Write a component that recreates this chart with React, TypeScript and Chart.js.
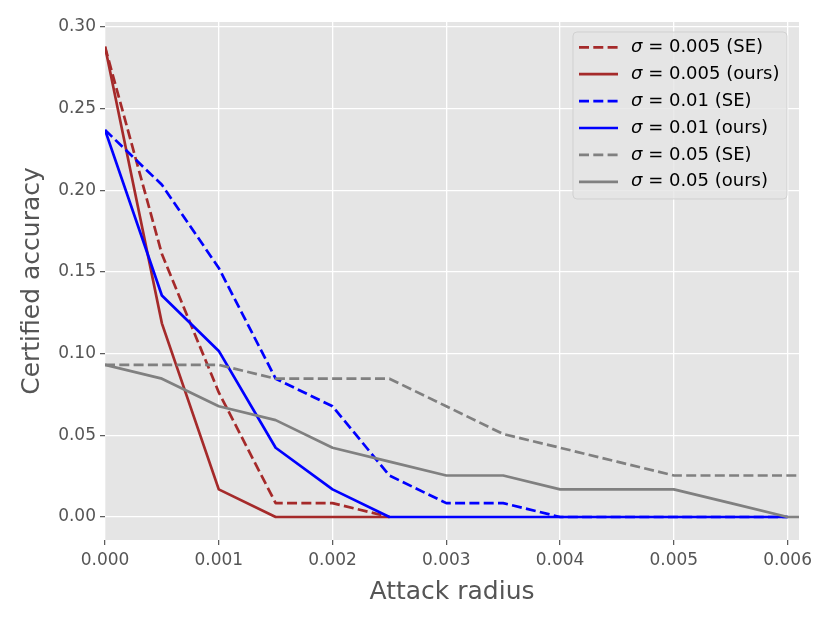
import React, { useEffect, useRef } from "react";
import { Chart, registerables } from "chart.js";

Chart.register(...registerables);

// ---- data ----
const radiiShort = [0, 0.0005, 0.001, 0.0015, 0.002, 0.0025];
const radiiMid = [0, 0.0005, 0.001, 0.0015, 0.002, 0.0025, 0.003, 0.0035, 0.004, 0.0045, 0.005, 0.0055, 0.006];
const radiiLong = [0, 0.0005, 0.001, 0.0015, 0.002, 0.0025, 0.003, 0.0035, 0.004, 0.0045, 0.005, 0.0055, 0.006, 0.0065];

const sigma005SE = [0.288, 0.161, 0.0763, 0.0085, 0.0085, 0];
const sigma005Ours = [0.288, 0.1186, 0.0169, 0, 0, 0];
const sigma001SE = [0.237, 0.2034, 0.1525, 0.0847, 0.0678, 0.0254, 0.0085, 0.0085, 0, 0, 0, 0, 0];
const sigma001Ours = [0.237, 0.1356, 0.1017, 0.0424, 0.0169, 0, 0, 0, 0, 0, 0, 0, 0];
const sigma05SE = [0.0932, 0.0932, 0.0932, 0.0847, 0.0847, 0.0847, 0.0678, 0.0508, 0.0424, 0.0339, 0.0254, 0.0254, 0.0254, 0.0254];
const sigma05Ours = [0.0932, 0.0847, 0.0678, 0.0593, 0.0424, 0.0339, 0.0254, 0.0254, 0.0169, 0.0169, 0.0169, 0.0085, 0, 0];

const seriesLabels = [
  "σ = 0.005 (SE)",
  "σ = 0.005 (ours)",
  "σ = 0.01 (SE)",
  "σ = 0.01 (ours)",
  "σ = 0.05 (SE)",
  "σ = 0.05 (ours)",
];
const xTickValues = [0, 0.001, 0.002, 0.003, 0.004, 0.005, 0.006];
const yTickValues = [0, 0.05, 0.1, 0.15, 0.2, 0.25, 0.3];

const FONT = "'DejaVu Sans', sans-serif";
const LW = 2.7;
const DASH = [10, 4.3];

export default function App() {
  const ref = useRef<HTMLCanvasElement | null>(null);

  useEffect(() => {
    if (!ref.current) return;
    const mk = (xs: number[], ys: number[]) => ys.map((y, i) => ({ x: xs[i], y }));
    const specs = [
      { data: mk(radiiShort, sigma005SE), color: "#A52A2A", dashed: true },
      { data: mk(radiiShort, sigma005Ours), color: "#A52A2A", dashed: false },
      { data: mk(radiiMid, sigma001SE), color: "#0000FF", dashed: true },
      { data: mk(radiiMid, sigma001Ours), color: "#0000FF", dashed: false },
      { data: mk(radiiLong, sigma05SE), color: "#808080", dashed: true },
      { data: mk(radiiLong, sigma05Ours), color: "#808080", dashed: false },
    ];
    const datasets = specs.map((s, i) => ({
      label: seriesLabels[i],
      data: s.data,
      borderColor: s.color,
      backgroundColor: s.color,
      borderWidth: LW,
      borderDash: s.dashed ? DASH : [],
      pointRadius: 0,
      fill: false,
      tension: 0,
      order: specs.length - i,
      borderCapStyle: "butt" as const,
      borderJoinStyle: "round" as const,
    }));

    const bgPlugin = {
      id: "bgPlugin",
      beforeDraw(chart: any) {
        const { ctx, chartArea: a, width, height } = chart;
        ctx.save();
        ctx.fillStyle = "#ffffff";
        ctx.fillRect(0, 0, width, height);
        ctx.fillStyle = "#E5E5E5";
        ctx.fillRect(a.left, a.top, a.right - a.left, a.bottom - a.top);
        ctx.restore();
      },
    };

    const legendPlugin = {
      id: "legendPlugin",
      afterDraw(chart: any) {
        const { ctx, chartArea: a } = chart;
        const w = 214;
        const h = 167;
        const x0 = a.right - 12 - w;
        const y0 = a.top + 10;
        ctx.save();
        const r = 4;
        ctx.beginPath();
        ctx.moveTo(x0 + r, y0);
        ctx.lineTo(x0 + w - r, y0);
        ctx.quadraticCurveTo(x0 + w, y0, x0 + w, y0 + r);
        ctx.lineTo(x0 + w, y0 + h - r);
        ctx.quadraticCurveTo(x0 + w, y0 + h, x0 + w - r, y0 + h);
        ctx.lineTo(x0 + r, y0 + h);
        ctx.quadraticCurveTo(x0, y0 + h, x0, y0 + h - r);
        ctx.lineTo(x0, y0 + r);
        ctx.quadraticCurveTo(x0, y0, x0 + r, y0);
        ctx.closePath();
        ctx.fillStyle = "rgba(229,229,229,0.8)";
        ctx.fill();
        ctx.lineWidth = 1;
        ctx.strokeStyle = "rgba(204,204,204,0.8)";
        ctx.stroke();
        ctx.textBaseline = "middle";
        ctx.textAlign = "left";
        specs.forEach((s, i) => {
          const cy = y0 + 15.3 + i * 26.9;
          ctx.beginPath();
          ctx.setLineDash(s.dashed ? DASH : []);
          ctx.lineWidth = LW;
          ctx.strokeStyle = s.color;
          ctx.moveTo(x0 + 6, cy);
          ctx.lineTo(x0 + 45, cy);
          ctx.stroke();
          ctx.setLineDash([]);
          ctx.fillStyle = "#000000";
          const label = seriesLabels[i];
          const head = label.slice(0, 1);
          const rest = label.slice(1);
          ctx.font = `italic 18px ${FONT}`;
          ctx.fillText(head, x0 + 58, cy);
          const hw = ctx.measureText(head).width;
          ctx.font = `18px ${FONT}`;
          ctx.fillText(rest, x0 + 58 + hw, cy);
        });
        ctx.restore();
      },
    };

    const chart = new Chart(ref.current, {
      type: "line",
      data: { datasets },
      options: {
        animation: false,
        responsive: false,
        maintainAspectRatio: false,
        layout: { padding: { left: 0, top: 22, right: 31, bottom: 0 } },
        plugins: { legend: { display: false }, tooltip: { enabled: false } },
        scales: {
          x: {
            type: "linear",
            min: 0,
            max: 0.0061,
            afterFit: (scale: any) => {
              scale.height = 83;
            },
            afterBuildTicks: (scale: any) => {
              scale.ticks = xTickValues.map((v) => ({ value: v }));
            },
            ticks: {
              font: { family: FONT, size: 17, lineHeight: 1.2 },
              color: "#555555",
              padding: 5,
              maxRotation: 0,
              autoSkip: false,
              callback: (v: any) => Number(v).toFixed(3),
            },
            grid: {
              color: "#ffffff",
              lineWidth: 1.3,
              drawTicks: true,
              tickLength: 5,
              tickColor: "#555555",
              tickWidth: 1.2,
            },
            border: { display: false },
            title: {
              display: true,
              text: "Attack radius",
              color: "#555555",
              font: { family: FONT, size: 25, lineHeight: 1.2 },
              padding: { top: 0, bottom: 15.5 },
            },
          },
          y: {
            type: "linear",
            min: -0.01408,
            max: 0.3031,
            afterFit: (scale: any) => {
              scale.width = 105;
            },
            afterBuildTicks: (scale: any) => {
              scale.ticks = yTickValues.map((v) => ({ value: v }));
            },
            ticks: {
              font: { family: FONT, size: 17, lineHeight: 1.2 },
              color: "#555555",
              padding: 4,
              autoSkip: false,
              callback: (v: any) => Number(v).toFixed(2),
            },
            grid: {
              color: "#ffffff",
              lineWidth: 1.3,
              drawTicks: true,
              tickLength: 5,
              tickColor: "#555555",
              tickWidth: 1.2,
            },
            border: { display: false },
            title: {
              display: true,
              text: "Certified accuracy",
              color: "#555555",
              font: { family: FONT, size: 25, lineHeight: 1.2 },
              padding: { top: 17, bottom: 0 },
            },
          },
        },
      },
      plugins: [bgPlugin, legendPlugin],
    });
    return () => chart.destroy();
  }, []);

  return (
    <div style={{ position: "absolute", left: 0, top: 0, width: 830, height: 623 }}>
      <canvas ref={ref} width={830} height={623} style={{ width: 830, height: 623 }} />
    </div>
  );
}
